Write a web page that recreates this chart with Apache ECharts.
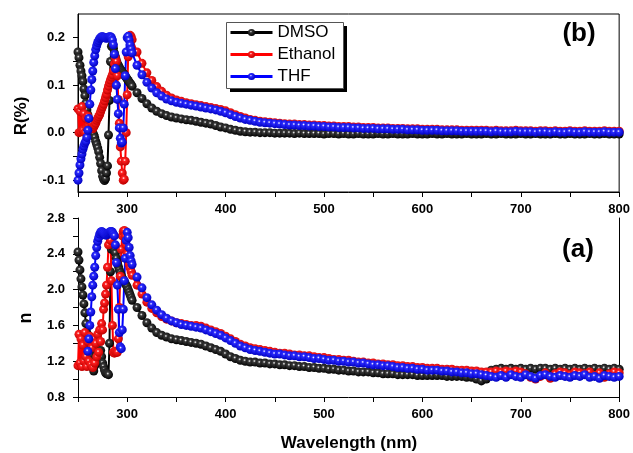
<!DOCTYPE html>
<html>
<head>
<meta charset="utf-8">
<script src="https://cdn.jsdelivr.net/npm/echarts@6.0.0/dist/echarts.min.js"></script>
<style>
html,body{margin:0;padding:0;background:#fff;}
#chart{width:633px;height:453px;}
</style>
</head>
<body>
<div id="chart"></div>
<script>
// ---------------- data ----------------
const seriesNames = ['DMSO', 'Ethanol', 'THF'];

// wavelength sampling (nm)
const wlHead = [250,251,252,253,254,255,256,257,258,259,260,261,262,263,264,265,266,267,268,269,270,271,272,273,274,275,276,277,278,279,280,281,282,283,284,285,286,287,288,289,290,291,292,293,294,295,296,297,298,299,300,301,302,303,304,305];
const wlTail = [310,315,320,325,330,335,340,345,350,355,360,365,370,375,380,385,390,395,400,405,410,415,420,425,430,435,440,445,450,455,460,465,470,475,480,485,490,495,500,505,510,515,520,525,530,535,540,545,550,555,560,565,570,575,580,585,590,595,600,605,610,615,620,625,630,635,640,645,650,655,660,665,670,675,680,685,690,695,700,705,710,715,720,725,730,735,740,745,750,755,760,765,770,775,780,785,790,795,800];

// (b) R(%)
const dmsoRHead = [0.170,0.158,0.142,0.130,0.120,0.108,0.092,0.078,0.062,0.048,0.038,0.028,0.020,0.012,0.006,0.000,-0.004,-0.010,-0.018,-0.025,-0.032,-0.040,-0.052,-0.065,-0.080,-0.092,-0.098,-0.101,-0.097,-0.085,-0.070,-0.005,0.068,0.150,0.182,0.186,0.178,0.168,0.160,0.152,0.146,0.142,0.138,0.134,0.131,0.128,0.125,0.122,0.119,0.116,0.113,0.110,0.107,0.104,0.101,0.098];
const dmsoRTail = [0.084,0.072,0.061,0.052,0.045,0.040,0.036,0.033,0.031,0.029,0.027,0.026,0.024,0.022,0.020,0.018,0.015,0.012,0.010,0.007,0.005,0.003,0.002,0.001,0.001,0.000,0.000,0.000,-0.001,-0.001,-0.001,-0.001,-0.002,-0.001,-0.002,-0.002,-0.002,-0.002,-0.003,-0.002,-0.002,-0.003,-0.002,-0.003,-0.003,-0.002,-0.003,-0.003,-0.003,-0.002,-0.003,-0.003,-0.002,-0.003,-0.003,-0.003,-0.002,-0.003,-0.003,-0.003,-0.002,-0.003,-0.003,-0.002,-0.003,-0.003,-0.003,-0.002,-0.003,-0.003,-0.003,-0.002,-0.003,-0.003,-0.002,-0.003,-0.003,-0.003,-0.002,-0.003,-0.003,-0.002,-0.003,-0.003,-0.003,-0.002,-0.003,-0.003,-0.002,-0.003,-0.003,-0.003,-0.002,-0.003,-0.003,-0.002,-0.003,-0.003,-0.003];
const ethRHead = [0.050,0.000,0.045,0.002,0.055,0.005,0.040,0.000,0.030,0.010,0.035,0.015,0.025,0.010,0.020,0.008,0.012,0.016,0.020,0.026,0.030,0.034,0.038,0.044,0.050,0.055,0.060,0.067,0.074,0.081,0.090,0.098,0.105,0.111,0.117,0.122,0.130,0.145,0.158,0.150,0.120,0.070,0.020,-0.030,-0.060,-0.085,-0.100,-0.098,-0.060,0.000,0.080,0.160,0.200,0.205,0.202,0.196];
const ethRTail = [0.170,0.146,0.126,0.110,0.097,0.087,0.079,0.073,0.069,0.066,0.063,0.061,0.059,0.057,0.055,0.053,0.051,0.049,0.046,0.042,0.038,0.034,0.031,0.028,0.026,0.024,0.023,0.022,0.021,0.020,0.019,0.018,0.018,0.017,0.017,0.016,0.016,0.015,0.015,0.014,0.014,0.013,0.013,0.013,0.012,0.012,0.011,0.011,0.011,0.010,0.010,0.010,0.009,0.009,0.009,0.008,0.008,0.008,0.007,0.007,0.007,0.007,0.006,0.006,0.006,0.006,0.005,0.005,0.005,0.005,0.005,0.005,0.004,0.005,0.004,0.004,0.004,0.005,0.004,0.004,0.004,0.003,0.004,0.004,0.003,0.004,0.003,0.003,0.004,0.003,0.003,0.004,0.003,0.003,0.003,0.004,0.003,0.003,0.003];
const thfRHead = [-0.100,-0.085,-0.068,-0.055,-0.045,-0.035,-0.028,-0.022,-0.018,-0.010,0.005,0.030,0.060,0.090,0.112,0.130,0.148,0.162,0.175,0.183,0.190,0.194,0.198,0.200,0.202,0.202,0.201,0.200,0.200,0.199,0.200,0.201,0.202,0.202,0.200,0.195,0.185,0.165,0.135,0.100,0.070,0.040,0.010,-0.012,-0.022,-0.020,0.010,0.060,0.120,0.170,0.200,0.203,0.195,0.185,0.176,0.168];
const thfRTail = [0.142,0.122,0.106,0.094,0.084,0.077,0.071,0.067,0.064,0.062,0.060,0.058,0.056,0.054,0.052,0.050,0.048,0.045,0.042,0.038,0.034,0.031,0.028,0.026,0.024,0.022,0.021,0.020,0.019,0.018,0.017,0.016,0.016,0.015,0.015,0.014,0.014,0.013,0.013,0.012,0.012,0.011,0.011,0.011,0.010,0.010,0.009,0.009,0.009,0.008,0.008,0.008,0.007,0.007,0.007,0.006,0.006,0.006,0.005,0.005,0.005,0.005,0.004,0.004,0.004,0.004,0.003,0.003,0.003,0.003,0.003,0.003,0.002,0.003,0.002,0.002,0.002,0.003,0.002,0.002,0.002,0.001,0.002,0.002,0.001,0.002,0.001,0.001,0.002,0.001,0.001,0.002,0.001,0.001,0.001,0.002,0.001,0.001,0.001];

// (a) n
const dmsoNHead = [2.42,2.33,2.22,2.12,2.03,1.94,1.84,1.74,1.62,1.52,1.44,1.38,1.33,1.27,1.20,1.13,1.09,1.15,1.22,1.28,1.25,1.30,1.28,1.32,1.25,1.18,1.14,1.10,1.07,1.06,1.06,1.05,1.40,2.20,2.45,2.48,2.47,2.44,2.41,2.35,2.30,2.26,2.22,2.19,2.16,2.13,2.11,2.09,2.07,2.05,2.03,2.00,1.97,1.94,1.91,1.88];
const dmsoNTail = [1.80,1.71,1.63,1.57,1.52,1.49,1.47,1.45,1.44,1.43,1.42,1.41,1.40,1.39,1.37,1.35,1.33,1.31,1.28,1.25,1.23,1.21,1.20,1.19,1.19,1.18,1.18,1.17,1.17,1.16,1.16,1.15,1.15,1.14,1.14,1.13,1.13,1.12,1.12,1.11,1.11,1.10,1.10,1.09,1.09,1.08,1.08,1.08,1.07,1.07,1.06,1.06,1.06,1.05,1.05,1.05,1.05,1.04,1.04,1.04,1.04,1.04,1.04,1.03,1.03,1.03,1.03,1.02,1.02,1.00,0.98,1.00,1.10,1.11,1.12,1.11,1.12,1.11,1.12,1.11,1.12,1.11,1.12,1.12,1.11,1.12,1.11,1.12,1.11,1.12,1.11,1.12,1.11,1.12,1.11,1.12,1.11,1.12,1.11];
const ethNHead = [1.15,1.50,1.18,1.45,1.14,1.38,1.20,1.52,1.25,1.14,1.42,1.20,1.48,1.16,1.35,1.13,1.45,1.18,1.40,1.25,1.50,1.30,1.55,1.42,1.62,1.55,1.78,1.85,1.95,2.05,2.25,2.50,2.62,2.55,2.10,1.60,1.30,1.29,1.31,1.30,1.30,1.45,1.80,2.15,2.45,2.60,2.65,2.66,2.60,2.50,2.40,2.33,2.28,2.24,2.20,2.16];
const ethNTail = [2.05,1.95,1.86,1.79,1.74,1.70,1.67,1.65,1.63,1.62,1.61,1.60,1.60,1.59,1.57,1.55,1.53,1.51,1.48,1.45,1.42,1.39,1.37,1.35,1.34,1.33,1.32,1.31,1.30,1.29,1.29,1.28,1.27,1.27,1.26,1.26,1.25,1.24,1.24,1.23,1.22,1.22,1.21,1.21,1.20,1.19,1.19,1.18,1.18,1.17,1.17,1.16,1.16,1.15,1.15,1.14,1.14,1.13,1.13,1.12,1.12,1.12,1.11,1.11,1.11,1.10,1.10,1.10,1.09,1.09,1.08,1.08,1.08,1.09,1.08,1.09,1.08,1.09,1.08,1.06,1.02,1.00,1.03,1.07,1.01,1.06,1.08,1.07,1.05,1.08,1.07,1.06,1.08,1.04,1.07,1.02,1.06,1.08,1.07];
const thfNHead = [null,null,null,null,null,null,null,null,null,null,1.31,1.45,1.60,1.75,1.92,2.05,2.15,2.25,2.38,2.47,2.54,2.58,2.62,2.64,2.65,2.64,2.63,2.62,2.61,2.61,2.62,2.63,2.64,2.65,2.65,2.64,2.62,2.60,2.50,2.30,2.05,1.78,1.52,1.36,1.34,1.55,1.78,2.10,2.35,2.55,2.64,2.58,2.47,2.38,2.32,2.28];
const thfNTail = [2.14,2.02,1.91,1.83,1.77,1.72,1.68,1.65,1.63,1.61,1.60,1.59,1.58,1.57,1.55,1.53,1.51,1.49,1.46,1.43,1.40,1.37,1.35,1.33,1.32,1.31,1.30,1.29,1.28,1.28,1.27,1.26,1.26,1.25,1.25,1.24,1.23,1.23,1.22,1.21,1.21,1.20,1.20,1.19,1.19,1.18,1.18,1.17,1.16,1.16,1.15,1.15,1.14,1.13,1.13,1.12,1.12,1.11,1.11,1.10,1.10,1.10,1.09,1.09,1.08,1.08,1.07,1.07,1.06,1.06,1.05,1.04,1.03,1.02,1.04,1.02,1.05,1.03,1.02,1.05,1.03,1.01,1.04,1.05,1.03,1.02,1.04,1.03,1.02,1.04,1.03,1.05,1.02,1.03,1.01,1.04,1.03,1.02,1.03];

// tick values
const xLabelStep = 100;
const rTicks = [-0.1,-0.05,0,0.05,0.1,0.15,0.2];
const rLabels = [-0.1,0,0.1,0.2];
const nTicks = [0.8,1.0,1.2,1.4,1.6,1.8,2.0,2.2,2.4,2.6,2.8];
const nLabels = [0.8,1.2,1.6,2.0,2.4,2.8];

// ---------------- build ----------------
const wl = wlHead.concat(wlTail);
function pairs(head, tail) {
  const v = head.concat(tail);
  return wl.map((x, i) => [x, v[i]]);
}
const FONT = "'Liberation Sans', Arial, Helvetica, sans-serif";
const palette = {
  DMSO:    {line: '#000000', mid: '#3a3a3a', dark: '#000000'},
  Ethanol: {line: '#ff0000', mid: '#ff2020', dark: '#c00000'},
  THF:     {line: '#0000ff', mid: '#2a2aff', dark: '#0000c0'}
};
function ball(p) {
  return {type: 'radial', x: 0.42, y: 0.38, r: 0.62,
    colorStops: [{offset: 0, color: '#ffffff'}, {offset: 0.25, color: p.mid}, {offset: 1, color: p.dark}]};
}
function mkSeries(name, data, gi) {
  const p = palette[name];
  return {
    name: name, type: 'line', xAxisIndex: gi, yAxisIndex: gi,
    data: data, symbol: 'circle', symbolSize: 9, showSymbol: true,
    connectNulls: false, animation: false, clip: true,
    lineStyle: {color: p.line, width: 2},
    itemStyle: {color: ball(p), borderWidth: 0},
    emphasis: {disabled: true}
  };
}

const xAxisBase = (gi) => ({
  type: 'value', gridIndex: gi, min: 250, max: 800, interval: 50,
  axisLine: {show: true, onZero: false, lineStyle: {color: '#000', width: 1}},
  axisTick: {show: true, inside: false, length: 5, lineStyle: {color: '#000'}},
  axisLabel: {formatter: v => (v % xLabelStep === 0 ? String(v) : ''), color: '#000', fontWeight: 'bold', fontSize: 13, fontFamily: FONT, margin: 11, showMinLabel: true, showMaxLabel: true},
  splitLine: {show: false}
});

const option = {
  backgroundColor: '#fff',
  animation: false,
  grid: [
    {left: 78, top: 14, right: 13, height: 178, show: true, borderColor: '#000', borderWidth: 1, backgroundColor: 'transparent'},
    {left: 78, top: 218, right: 13, height: 179}
  ],
  xAxis: [xAxisBase(0), xAxisBase(1)],
  yAxis: [
    {type: 'value', gridIndex: 0, min: -0.125, max: 0.25,
     axisLine: {show: true, onZero: false, lineStyle: {color: '#000'}},
     axisTick: {show: true, length: 5, customValues: rTicks, lineStyle: {color: '#000'}},
     axisLabel: {customValues: rLabels, formatter: v => Number(v).toFixed(1), color: '#000', fontWeight: 'bold', fontSize: 13, fontFamily: FONT, margin: 13},
     splitLine: {show: false}},
    {type: 'value', gridIndex: 1, min: 0.8, max: 2.8, interval: 0.4,
     axisLine: {show: true, onZero: false, lineStyle: {color: '#000'}},
     axisTick: {show: true, length: 5, customValues: nTicks, lineStyle: {color: '#000'}},
     axisLabel: {customValues: nLabels, formatter: v => Number(v).toFixed(1), color: '#000', fontWeight: 'bold', fontSize: 13, fontFamily: FONT, margin: 13},
     splitLine: {show: false}},
    {type: 'value', gridIndex: 1, position: 'right', min: 0.8, max: 2.8, interval: 0.4,
     axisLine: {show: true, onZero: false, lineStyle: {color: '#000'}},
     axisTick: {show: false}, axisLabel: {show: false}, splitLine: {show: false}}
  ],
  legend: {
    data: seriesNames, orient: 'vertical', left: 229, top: 24, z: 20,
    itemWidth: 42, itemHeight: 9, itemGap: 5, padding: 0,
    lineStyle: {width: 3},
    textStyle: {fontSize: 17, fontFamily: FONT, color: '#000'},
    selectedMode: false
  },
  graphic: [
    {type: 'rect', z: 10, shape: {x: 230, y: 26, width: 117, height: 66}, style: {fill: '#000'}},
    {type: 'rect', z: 11, shape: {x: 226.5, y: 22.5, width: 117, height: 66}, style: {fill: '#fff', stroke: '#555', lineWidth: 1}},
    {type: 'text', z: 30, x: 349, y: 443, style: {text: 'Wavelength (nm)', font: 'bold 17px ' + FONT, fill: '#000', textAlign: 'center', textVerticalAlign: 'middle'}},
    {type: 'text', z: 30, x: 21, y: 116, rotation: Math.PI / 2, style: {text: 'R(%)', font: 'bold 17px ' + FONT, fill: '#000', textAlign: 'center', textVerticalAlign: 'middle'}},
    {type: 'text', z: 30, x: 26, y: 318, rotation: Math.PI / 2, style: {text: 'n', font: 'bold 18px ' + FONT, fill: '#000', textAlign: 'center', textVerticalAlign: 'middle'}},
    {type: 'text', z: 30, x: 579, y: 34, style: {text: '(b)', font: 'bold 26px ' + FONT, fill: '#000', textAlign: 'center', textVerticalAlign: 'middle'}},
    {type: 'text', z: 30, x: 578, y: 250, style: {text: '(a)', font: 'bold 26px ' + FONT, fill: '#000', textAlign: 'center', textVerticalAlign: 'middle'}}
  ],
  series: [
    mkSeries('DMSO', pairs(dmsoRHead, dmsoRTail), 0),
    mkSeries('Ethanol', pairs(ethRHead, ethRTail), 0),
    mkSeries('THF', pairs(thfRHead, thfRTail), 0),
    mkSeries('DMSO', pairs(dmsoNHead, dmsoNTail), 1),
    mkSeries('Ethanol', pairs(ethNHead, ethNTail), 1),
    mkSeries('THF', pairs(thfNHead, thfNTail), 1)
  ]
};
const chart = echarts.init(document.getElementById('chart'), null, {renderer: 'canvas'});
chart.setOption(option);
</script>
</body>
</html>
